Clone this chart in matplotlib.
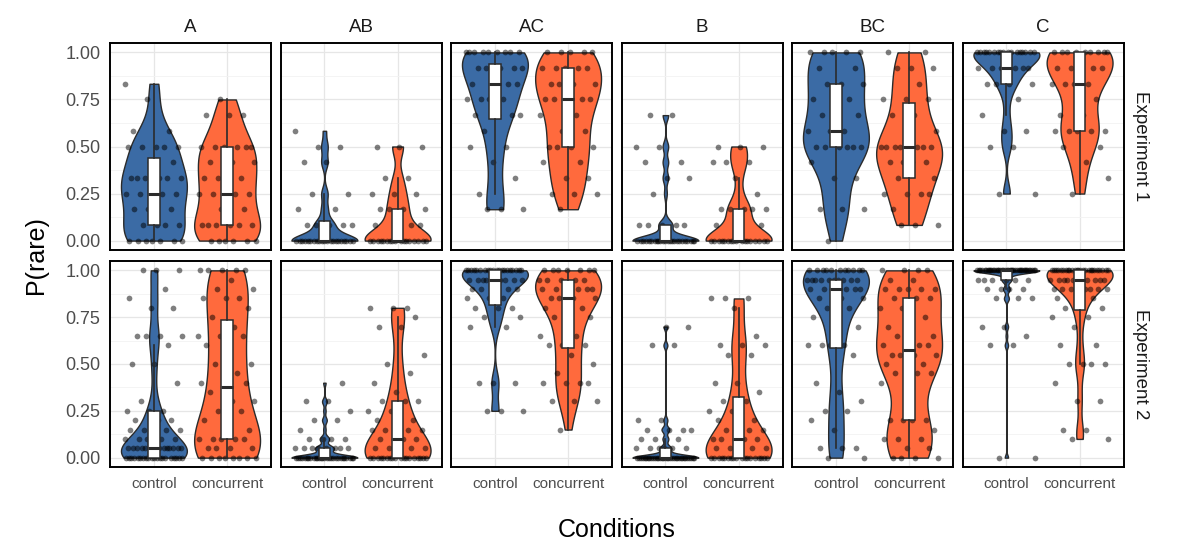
import numpy as np
import matplotlib
matplotlib.use("Agg")
import matplotlib.pyplot as plt

plt.rcParams['font.family'] = ['Liberation Sans', 'DejaVu Sans']

# ---- data: number of participants at each P(rare) level ----
# experiment 1 answers are in twelfths, experiment 2 in twentieths
levels_e1 = np.arange(13) / 12
levels_e2 = np.arange(21) / 20

panels = ["A", "AB", "AC", "B", "BC", "C"]
conditions = ["control", "concurrent"]
experiments = ["Experiment 1", "Experiment 2"]

# experiment 1, counts at 0, 1/12, ..., 12/12
e1_A_ctrl  = [7, 4, 3, 5, 6, 2, 5, 2, 0, 1, 1, 0, 0]
e1_A_conc  = [6, 6, 2, 4, 4, 3, 6, 0, 3, 1, 0, 0, 0]
e1_AB_ctrl = [21, 6, 2, 2, 0, 2, 2, 1, 0, 0, 0, 0, 0]
e1_AB_conc = [17, 4, 4, 3, 2, 0, 3, 0, 0, 0, 0, 0, 0]
e1_AC_ctrl = [0, 0, 3, 1, 1, 1, 2, 1, 4, 4, 4, 6, 9]
e1_AC_conc = [0, 0, 1, 3, 2, 2, 4, 2, 2, 5, 4, 5, 5]
e1_B_ctrl  = [24, 5, 0, 1, 2, 2, 2, 0, 2, 0, 0, 0, 0]
e1_B_conc  = [17, 3, 5, 1, 1, 3, 3, 0, 0, 0, 0, 0, 0]
e1_BC_ctrl = [1, 0, 3, 0, 2, 1, 6, 3, 2, 3, 3, 2, 5]
e1_BC_conc = [0, 3, 1, 4, 2, 4, 8, 1, 2, 3, 1, 3, 2]
e1_C_ctrl  = [0, 0, 0, 2, 0, 0, 2, 2, 1, 1, 4, 7, 17]
e1_C_conc  = [0, 0, 0, 1, 1, 1, 2, 5, 2, 1, 4, 5, 9]

# experiment 2, counts at 0, 0.05, ..., 1
e2_A_ctrl  = [20, 14, 6, 4, 3, 3, 1, 0, 1, 0, 2, 0, 1, 4, 0, 0, 2, 1, 1, 0, 3]
e2_A_conc  = [8, 4, 5, 2, 1, 2, 2, 1, 3, 1, 2, 0, 2, 3, 1, 1, 1, 3, 2, 1, 5]
e2_AB_ctrl = [28, 8, 4, 1, 2, 1, 2, 0, 1, 0, 0, 0, 0, 0, 0, 0, 0, 0, 0, 0, 0]
e2_AB_conc = [18, 5, 4, 5, 2, 2, 3, 1, 1, 1, 1, 1, 0, 0, 2, 1, 3, 0, 0, 0, 0]
e2_AC_ctrl = [0, 0, 0, 0, 0, 3, 0, 0, 3, 0, 0, 0, 0, 0, 2, 2, 3, 3, 5, 9, 20]
e2_AC_conc = [0, 0, 0, 1, 0, 0, 3, 0, 4, 1, 1, 1, 3, 2, 0, 3, 2, 4, 7, 5, 7]
e2_B_ctrl  = [34, 6, 3, 4, 2, 0, 0, 0, 0, 0, 0, 0, 2, 0, 2, 0, 0, 0, 0, 0, 0]
e2_B_conc  = [18, 5, 5, 4, 2, 2, 2, 1, 2, 0, 0, 2, 3, 1, 0, 0, 1, 3, 0, 0, 0]
e2_BC_ctrl = [2, 3, 0, 1, 1, 2, 1, 1, 1, 0, 0, 1, 4, 0, 2, 1, 2, 3, 6, 10, 11]
e2_BC_conc = [4, 2, 3, 1, 4, 0, 0, 0, 1, 3, 3, 4, 4, 2, 2, 1, 2, 3, 5, 2, 4]
e2_C_ctrl  = [2, 0, 0, 0, 0, 0, 0, 0, 0, 0, 0, 0, 2, 1, 2, 0, 0, 3, 4, 6, 40]
e2_C_conc  = [0, 0, 2, 2, 0, 0, 2, 0, 1, 0, 4, 0, 2, 0, 1, 2, 2, 3, 8, 10, 25]

counts = {
    ("Experiment 1", "A"): (e1_A_ctrl, e1_A_conc),
    ("Experiment 1", "AB"): (e1_AB_ctrl, e1_AB_conc),
    ("Experiment 1", "AC"): (e1_AC_ctrl, e1_AC_conc),
    ("Experiment 1", "B"): (e1_B_ctrl, e1_B_conc),
    ("Experiment 1", "BC"): (e1_BC_ctrl, e1_BC_conc),
    ("Experiment 1", "C"): (e1_C_ctrl, e1_C_conc),
    ("Experiment 2", "A"): (e2_A_ctrl, e2_A_conc),
    ("Experiment 2", "AB"): (e2_AB_ctrl, e2_AB_conc),
    ("Experiment 2", "AC"): (e2_AC_ctrl, e2_AC_conc),
    ("Experiment 2", "B"): (e2_B_ctrl, e2_B_conc),
    ("Experiment 2", "BC"): (e2_BC_ctrl, e2_BC_conc),
    ("Experiment 2", "C"): (e2_C_ctrl, e2_C_conc),
}

colors = ["#3b6ba5", "#ff6a3d"]
edge = "#2b2b2b"


def bw_nrd0(x):
    # same rule as R's bw.nrd0
    hi = np.std(x, ddof=1)
    q75, q25 = np.percentile(x, [75, 25])
    lo = min(hi, (q75 - q25) / 1.34)
    if not lo:
        lo = hi or abs(x[0]) or 1.0
    return 0.9 * lo * len(x) ** -0.2


def violin_shape(x, n=512):
    grid = np.linspace(x.min(), x.max(), n)
    bw = bw_nrd0(x)
    dens = np.exp(-0.5 * ((grid[:, None] - x[None, :]) / bw) ** 2).sum(axis=1)
    return grid, dens / dens.max()


def jitter(n, width=0.4):
    # evenly spread deterministic offsets (golden ratio sequence)
    return ((np.arange(n) * 0.6180339887 + 0.37) % 1.0 - 0.5) * 2 * width


fig = plt.figure(figsize=(12, 5.55), dpi=100)
W, H = 1200, 555
lefts = [110, 280.5, 451, 621.5, 792, 962.5]
pw = 161
rows = [(43, 250), (261, 467)]

for r, exp in enumerate(experiments):
    levels = levels_e1 if r == 0 else levels_e2
    top, bot = rows[r]
    for c, name in enumerate(panels):
        ax = fig.add_axes([lefts[c] / W, 1 - bot / H, pw / W, (bot - top) / H])
        groups = [np.repeat(levels, cnt) for cnt in counts[(exp, name)]]
        for i, vals in enumerate(groups):
            pos = i + 1
            g, d = violin_shape(vals)
            ax.fill_betweenx(g, pos - 0.45 * d, pos + 0.45 * d, facecolor=colors[i],
                             edgecolor=edge, lw=1.0, zorder=2)
            ax.scatter(pos + jitter(len(vals)), vals, s=17, color="black", alpha=0.5,
                       linewidths=0, zorder=3)
        ax.boxplot(groups, positions=[1, 2], widths=0.16, patch_artist=True,
                   showfliers=False, showcaps=False, whis=1.5, zorder=4,
                   boxprops=dict(facecolor="white", edgecolor=edge, lw=1.1),
                   medianprops=dict(color=edge, lw=2.2),
                   whiskerprops=dict(color=edge, lw=1.2))
        ax.set_xlim(0.4, 2.6)
        ax.set_ylim(-0.05, 1.05)
        ax.set_yticks([0, 0.25, 0.5, 0.75, 1.0])
        ax.set_yticks([0.125, 0.375, 0.625, 0.875], minor=True)
        ax.set_xticks([1, 2])
        ax.grid(True, which="major", color="#e6e6e6", lw=0.9, zorder=0)
        ax.grid(True, which="minor", axis="y", color="#f2f2f2", lw=0.6, zorder=0)
        ax.set_axisbelow(True)
        for s in ax.spines.values():
            s.set_color("black")
            s.set_linewidth(1.4)
        ax.tick_params(which="both", length=0)
        ax.tick_params(axis="y", pad=7, labelsize=13, labelcolor="#4d4d4d")
        ax.tick_params(axis="x", pad=7, labelsize=11, labelcolor="#4d4d4d")
        if c == 0:
            ax.set_yticklabels(["0.00", "0.25", "0.50", "0.75", "1.00"])
        else:
            ax.set_yticklabels([])
        if r == 1:
            ax.set_xticklabels(conditions)
        else:
            ax.set_xticklabels([])
        if r == 0:
            ax.text(0.5, 1.0 + 16 / (bot - top), name, transform=ax.transAxes,
                    ha="center", va="center", fontsize=13.5, color="#1a1a1a")
        if c == len(panels) - 1:
            ax.text(1.0 + 17 / pw, 0.5, exp, transform=ax.transAxes, rotation=-90,
                    ha="center", va="center", fontsize=13.5, color="#1a1a1a")

fig.text(36 / W, 1 - 255 / H, "P(rare)", rotation=90, ha="center", va="center",
         fontsize=18, color="black")
fig.text(617 / W, 1 - 530 / H, "Conditions", ha="center", va="center",
         fontsize=18, color="black")

fig.savefig("out.png", dpi=100, facecolor="white")
